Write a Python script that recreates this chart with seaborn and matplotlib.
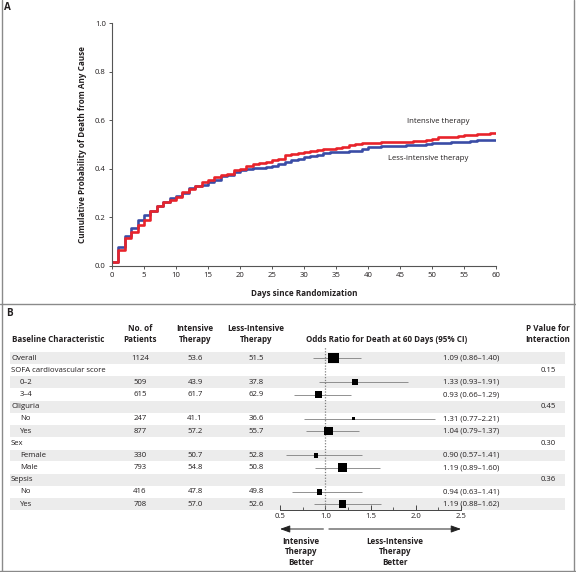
"""
Kaplan-Meier curves (panel A) and subgroup forest plot (panel B),
NEJM style, rebuilt with seaborn / matplotlib.
"""
import matplotlib
matplotlib.use("Agg")
import matplotlib.pyplot as plt
from matplotlib.lines import Line2D
from matplotlib.ticker import MultipleLocator
import numpy as np
import pandas as pd
import seaborn as sns

sns.set_theme(style="ticks")
plt.rcParams["font.family"] = ["Open Sans", "DejaVu Sans"]

# ---------------- data: panel A ----------------
days = list(range(0, 61))
intensive = [0.015, 0.065, 0.115, 0.14, 0.17, 0.19, 0.225, 0.245, 0.265, 0.27,
             0.285, 0.305, 0.315, 0.33, 0.345, 0.355, 0.365, 0.375, 0.38, 0.395,
             0.40, 0.41, 0.42, 0.425, 0.43, 0.435, 0.44, 0.455, 0.46, 0.465,
             0.47, 0.472, 0.476, 0.48, 0.482, 0.485, 0.49, 0.50, 0.502, 0.505,
             0.507, 0.508, 0.51, 0.51, 0.51, 0.51, 0.512, 0.514, 0.516, 0.518,
             0.523, 0.53, 0.531, 0.532, 0.533, 0.539, 0.54, 0.542, 0.544, 0.546,
             0.546]
less_intensive = [0.015, 0.08, 0.125, 0.155, 0.19, 0.21, 0.225, 0.245, 0.265, 0.28,
                  0.29, 0.30, 0.32, 0.33, 0.335, 0.345, 0.355, 0.37, 0.375, 0.385,
                  0.395, 0.40, 0.403, 0.405, 0.408, 0.412, 0.42, 0.43, 0.435, 0.44,
                  0.449, 0.452, 0.455, 0.464, 0.469, 0.47, 0.471, 0.472, 0.473, 0.48,
                  0.49, 0.491, 0.492, 0.493, 0.494, 0.495, 0.498, 0.499, 0.50, 0.502,
                  0.505, 0.506, 0.507, 0.51, 0.511, 0.512, 0.516, 0.517, 0.518, 0.52,
                  0.52]

# ---------------- data: panel B ----------------
labels = ["Overall", "SOFA cardiovascular score", "0\u20132", "3\u20134", "Oliguria",
          "No", "Yes", "Sex", "Female", "Male", "Sepsis", "No", "Yes"]
is_sub = [False, False, True, True, False, True, True, False, True, True, False, True, True]
n_pat = [1124, None, 509, 615, None, 247, 877, None, 330, 793, None, 416, 708]
pct_int = [53.6, None, 43.9, 61.7, None, 41.1, 57.2, None, 50.7, 54.8, None, 47.8, 57.0]
pct_less = [51.5, None, 37.8, 62.9, None, 36.6, 55.7, None, 52.8, 50.8, None, 49.8, 52.6]
odds = [1.09, None, 1.33, 0.93, None, 1.31, 1.04, None, 0.90, 1.19, None, 0.94, 1.19]
ci_lo = [0.86, None, 0.93, 0.66, None, 0.77, 0.79, None, 0.57, 0.89, None, 0.63, 0.88]
ci_hi = [1.40, None, 1.91, 1.29, None, 2.21, 1.37, None, 1.41, 1.60, None, 1.41, 1.62]
p_int = [None, "0.15", None, None, "0.45", None, None, "0.30", None, None, "0.36", None, None]

RED = "#e8232b"
BLUE = "#3a4ca6"
TXT = "#231f20"
GREY = "#808080"
FS = 5.6

W, H = 576, 572
fig = plt.figure(figsize=(W / 100, H / 100), dpi=100)


def box(x0, y0, x1, y1):
    """pixel box (top-left origin) -> figure fraction rect"""
    return [x0 / W, 1 - y1 / H, (x1 - x0) / W, (y1 - y0) / H]


# ================= panel A =================
ax = fig.add_axes(box(112, 23, 496, 266))
km = pd.DataFrame({
    "day": days * 2,
    "prob": intensive + less_intensive,
    "group": ["Intensive therapy"] * len(days) + ["Less-intensive therapy"] * len(days),
})
sns.lineplot(data=km, x="day", y="prob", hue="group",
             hue_order=["Less-intensive therapy", "Intensive therapy"],
             palette={"Intensive therapy": RED, "Less-intensive therapy": BLUE},
             drawstyle="steps-post", linewidth=1.9, legend=False, ax=ax)
ax.set_xlim(0, 60)
ax.set_ylim(0, 1)
ax.xaxis.set_major_locator(MultipleLocator(5))
ax.yaxis.set_major_locator(MultipleLocator(0.2))
ax.yaxis.set_major_formatter(matplotlib.ticker.FormatStrFormatter("%.1f"))
sns.despine(ax=ax)
for s in ("left", "bottom"):
    ax.spines[s].set_color("#555555")
    ax.spines[s].set_linewidth(0.8)
ax.tick_params(labelsize=FS, length=2.5, width=0.7, color="#555555",
               labelcolor=TXT, pad=2)
ax.set_xlabel("Days since Randomization", fontsize=FS + 0.3, fontweight="bold",
              color=TXT, labelpad=7)
ax.set_ylabel("Cumulative Probability of Death from Any Cause", fontsize=FS + 0.3,
              fontweight="bold", color=TXT, labelpad=6)
ax.text(50.9, 0.593, "Intensive therapy", fontsize=FS, color=TXT, ha="center", va="center")
ax.text(49.4, 0.444, "Less-intensive therapy", fontsize=FS, color=TXT, ha="center", va="center")

# ================= panel B =================
ROW0, ROWH = 358, 12.17          # pixel centre of first row, row pitch


def row_of(py):
    return (py - ROW0) / ROWH


rows = np.arange(len(labels))

axb = fig.add_axes(box(0, 300, W, H))
axb.set_xlim(0, W)
axb.set_ylim(row_of(H), row_of(300))
axb.axis("off")

for i in rows[::2]:
    axb.axhspan(i - 0.48, i + 0.48, xmin=10 / W, xmax=565 / W,
                color="#ececec", lw=0, zorder=0)

hdr_kw = dict(fontsize=FS + 0.2, fontweight="bold", color=TXT, va="center",
              linespacing=1.15)
axb.text(12, row_of(340), "Baseline Characteristic", ha="left", **hdr_kw)
axb.text(140, row_of(334), "No. of\nPatients", ha="center", **hdr_kw)
axb.text(195, row_of(334), "Intensive\nTherapy", ha="center", **hdr_kw)
axb.text(256, row_of(334), "Less-Intensive\nTherapy", ha="center", **hdr_kw)
axb.text(387, row_of(340), "Odds Ratio for Death at 60 Days (95% CI)", ha="center", **hdr_kw)
axb.text(548, row_of(334), "P Value for\nInteraction", ha="center", **hdr_kw)

cell_kw = dict(fontsize=FS, color=TXT, va="center")
for i in rows:
    axb.text(20 if is_sub[i] else 11, i, labels[i], ha="left", **cell_kw)
    if n_pat[i] is not None:
        axb.text(140, i, f"{n_pat[i]}", ha="center", **cell_kw)
        axb.text(195, i, f"{pct_int[i]:.1f}", ha="center", **cell_kw)
        axb.text(256, i, f"{pct_less[i]:.1f}", ha="center", **cell_kw)
        axb.text(443, i, f"{odds[i]:.2f} ({ci_lo[i]:.2f}\u2013{ci_hi[i]:.2f})",
                 ha="left", **cell_kw)
    if p_int[i] is not None:
        axb.text(548, i, p_int[i], ha="center", **cell_kw)

# forest
axf = fig.add_axes(box(280, 347, 461, 510))
axf.patch.set_alpha(0)
axf.set_xlim(0.5, 2.5)
axf.set_ylim(row_of(510), row_of(347))
fp = pd.DataFrame({"row": rows, "odds": odds, "lo": ci_lo, "hi": ci_hi,
                   "n": n_pat}).dropna()
axf.hlines(fp["row"], fp["lo"], fp["hi"], color=GREY, lw=0.6, zorder=2)
axf.axvline(1.0, color=GREY, lw=0.9, ls=(0, (1, 1.3)), zorder=1)
sns.scatterplot(data=fp, x="odds", y="row", size="n", sizes=(5, 55), marker="s",
                color="black", edgecolor="none", legend=False, zorder=3, ax=axf)
axf.set_xlabel("")
axf.set_ylabel("")
axf.set_yticks([])
for s in ("top", "left", "right"):
    axf.spines[s].set_visible(False)
axf.spines["bottom"].set_color("#444444")
axf.spines["bottom"].set_linewidth(0.7)
axf.xaxis.set_major_locator(MultipleLocator(0.5))
axf.xaxis.set_minor_locator(MultipleLocator(0.25))
axf.xaxis.set_major_formatter(matplotlib.ticker.FormatStrFormatter("%.1f"))
axf.tick_params(axis="x", which="major", direction="in", length=3.5, width=0.7,
                color="#444444", labelsize=FS, labelcolor=TXT, pad=2)
axf.tick_params(axis="x", which="minor", direction="in", length=2, width=0.6,
                color="#444444")

ya = row_of(529)
arrow = dict(arrowstyle="-|>,head_length=0.5,head_width=0.18", color="#222222", lw=0.7,
             shrinkA=0, shrinkB=0)
axf.annotate("", xy=(0.5, ya), xytext=(0.98, ya), arrowprops=arrow, annotation_clip=False)
axf.annotate("", xy=(2.5, ya), xytext=(1.04, ya), arrowprops=arrow, annotation_clip=False)
axf.text(0.73, row_of(552), "Intensive\nTherapy\nBetter", ha="center", va="center",
         fontsize=FS + 0.2, fontweight="bold", color=TXT, linespacing=1.15, clip_on=False)
axf.text(1.77, row_of(552), "Less-Intensive\nTherapy\nBetter", ha="center", va="center",
         fontsize=FS + 0.2, fontweight="bold", color=TXT, linespacing=1.15, clip_on=False)

# panel letters and frame
fig.text(4 / W, 1 - 8 / H, "A", fontsize=FS + 1.5, fontweight="bold", color=TXT, va="center")
fig.text(6 / W, 1 - 314 / H, "B", fontsize=FS + 1.5, fontweight="bold", color=TXT, va="center")
frame = dict(color="#8a8a8a", lw=1.0, transform=fig.transFigure)
fig.add_artist(Line2D([1.5 / W, 1.5 / W], [0, 1], **frame))
fig.add_artist(Line2D([574 / W, 574 / W], [0, 1], **frame))
fig.add_artist(Line2D([0, 1], [1 - 304 / H, 1 - 304 / H], **frame))
fig.add_artist(Line2D([0, 1], [1 - 570.5 / H, 1 - 570.5 / H], **frame))

fig.savefig("out.png", dpi=100)
